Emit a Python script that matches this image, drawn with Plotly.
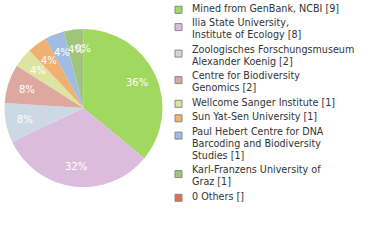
import math
import plotly.graph_objects as go

labels = ["Mined from GenBank, NCBI", "Ilia State University, Institute of Ecology",
          "Zoologisches Forschungsmuseum Alexander Koenig", "Centre for Biodiversity Genomics",
          "Wellcome Sanger Institute", "Sun Yat-Sen University",
          "Paul Hebert Centre for DNA Barcoding and Biodiversity Studies",
          "Karl-Franzens University of Graz", "0 Others"]
legend_lines = [["Mined from GenBank, NCBI [9]"],
                ["Ilia State University,", "Institute of Ecology [8]"],
                ["Zoologisches Forschungsmuseum", "Alexander Koenig [2]"],
                ["Centre for Biodiversity", "Genomics [2]"],
                ["Wellcome Sanger Institute [1]"],
                ["Sun Yat-Sen University [1]"],
                ["Paul Hebert Centre for DNA", "Barcoding and Biodiversity", "Studies [1]"],
                ["Karl-Franzens University of", "Graz [1]"],
                ["0 Others []"]]
values = [9, 8, 2, 2, 1, 1, 1, 1, 0]
colors = ["#a0d860", "#dcbcdc", "#ccd8e4", "#dca8a0", "#dce4a0", "#f0b070",
          "#a0bce0", "#a0c47c", "#e07058"]

W, H = 380, 240
cx, cy, R = 83.5, 108.0, 79.0
fig = go.Figure(go.Pie(
    labels=labels, values=values, sort=False, direction="clockwise", rotation=0,
    marker=dict(colors=colors, line=dict(width=0)),
    textinfo="none",
    domain=dict(x=[(cx - R) / W, (cx + R) / W], y=[1 - (cy + R) / H, 1 - (cy - R) / H]),
    showlegend=False, hoverinfo="label+value",
))

annotations = []
shapes = []

# percentage labels at 0.75 of the radius, on each slice's mid-angle
total = sum(values)
cum = 0.0
for v in values:
    frac = v / total
    mid = (cum + frac / 2) * 2 * math.pi
    cum += frac
    px = cx + 0.75 * R * math.sin(mid)
    py = cy - 0.75 * R * math.cos(mid)
    annotations.append(dict(
        x=px / W, y=1 - py / H, xref="paper", yref="paper", xanchor="center", yanchor="middle",
        text=f"{round(frac * 100)}%", showarrow=False,
        font=dict(family="DejaVu Sans", size=10, color="white"),
    ))

# legend
line_h = 12.0
gap = 2.5
y = 8.3  # center of first text line (px)
for lines, c in zip(legend_lines, colors):
    n = len(lines)
    for i, t in enumerate(lines):
        annotations.append(dict(
            x=190 / W, y=1 - (y + i * line_h) / H, xref="paper", yref="paper",
            xanchor="left", yanchor="middle", text=t, showarrow=False, align="left",
            font=dict(family="DejaVu Sans", size=9.6, color="#333333"),
        ))
    sq = y + (1.5 if n == 1 else 4.3)
    shapes.append(dict(type="rect", xref="paper", yref="paper",
                       x0=175 / W, x1=182 / W, y0=1 - (sq - 3.5) / H, y1=1 - (sq + 3.5) / H,
                       fillcolor=c, line=dict(color="#888888", width=1)))
    y += n * line_h + gap

fig.update_layout(width=W, height=H, margin=dict(l=0, r=0, t=0, b=0),
                  paper_bgcolor="white", plot_bgcolor="white",
                  annotations=annotations, shapes=shapes)
fig.write_html("out.html")
